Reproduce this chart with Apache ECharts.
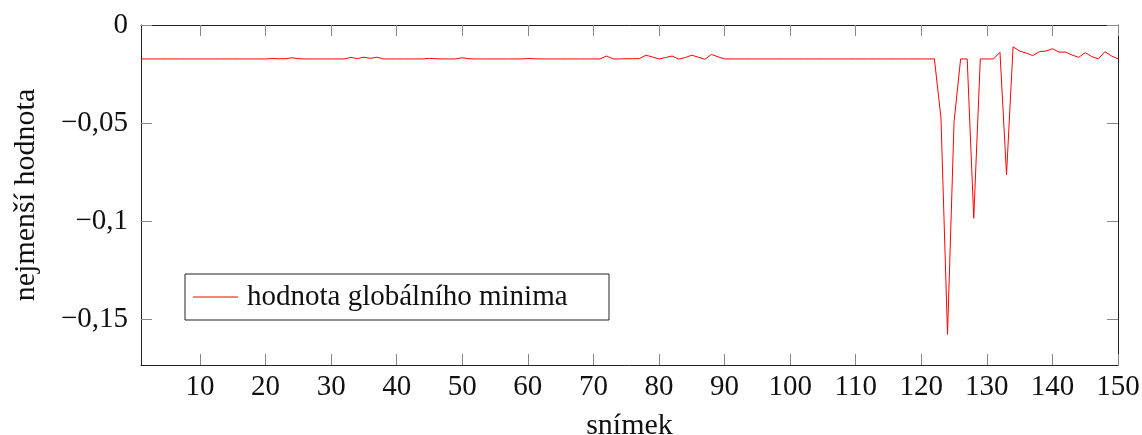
<!DOCTYPE html>
<html>
<head>
<meta charset="utf-8">
<script src="https://cdn.jsdelivr.net/npm/echarts@6/dist/echarts.min.js"></script>
<style>
  html, body { margin: 0; padding: 0; background: #fff; }
  #chart { width: 1142px; height: 435px; }
</style>
</head>
<body>
<div id="chart"></div>
<script>
// hodnota globalniho minima pro snimky 1..150
const minValues = [
  -0.0173, -0.0173, -0.0173, -0.0173, -0.0173, -0.0173, -0.0173, -0.0173, -0.0173, -0.0173,
  -0.0173, -0.0173, -0.0173, -0.0173, -0.0173, -0.0173, -0.0173, -0.0173, -0.0173, -0.0173,
  -0.0171, -0.0172, -0.0172, -0.0167, -0.0172, -0.0173, -0.0173, -0.0173, -0.0173, -0.0173,
  -0.0173, -0.0173, -0.0165, -0.0171, -0.0164, -0.0170, -0.0164, -0.0173, -0.0173, -0.0173,
  -0.0173, -0.0173, -0.0173, -0.0173, -0.0170, -0.0172, -0.0173, -0.0173, -0.0173, -0.0167,
  -0.0172, -0.0173, -0.0173, -0.0173, -0.0173, -0.0173, -0.0173, -0.0173, -0.0173, -0.0171,
  -0.0172, -0.0173, -0.0173, -0.0173, -0.0173, -0.0173, -0.0173, -0.0173, -0.0173, -0.0173,
  -0.0173, -0.0158, -0.0173, -0.0173, -0.0172, -0.0172, -0.0171, -0.0154, -0.0163, -0.0173,
  -0.0166, -0.0158, -0.0174, -0.0166, -0.0154, -0.0164, -0.0175, -0.0150, -0.0162, -0.0173,
  -0.0173, -0.0173, -0.0173, -0.0173, -0.0173, -0.0173, -0.0173, -0.0173, -0.0173, -0.0173,
  -0.0173, -0.0173, -0.0173, -0.0173, -0.0173, -0.0173, -0.0173, -0.0173, -0.0173, -0.0173,
  -0.0173, -0.0173, -0.0173, -0.0173, -0.0173, -0.0173, -0.0173, -0.0173, -0.0173, -0.0173,
  -0.0173, -0.0173, -0.0474, -0.1577, -0.0493, -0.0173, -0.0173, -0.0985, -0.0173, -0.0173,
  -0.0173, -0.0139, -0.0763, -0.0111, -0.0133, -0.0143, -0.0156, -0.0136, -0.0133, -0.0121,
  -0.0138, -0.0138, -0.0153, -0.0165, -0.0141, -0.0161, -0.0173, -0.0136, -0.0158, -0.0172
]
const xTicks = [10, 20, 30, 40, 50, 60, 70, 80, 90, 100, 110, 120, 130, 140, 150]
const yTicks = [0, -0.05, -0.1, -0.15]
const yTickLabels = ['0', '\u22120,05', '\u22120,1', '\u22120,15']
const seriesName = 'hodnota globálního minima'

const font = 'Liberation Serif'
const chart = echarts.init(document.getElementById('chart'))

// snimek = poradi + 1
const lineData = minValues.map((v, i) => [i + 1, v])

const axisLineStyle = { show: true, onZero: false, lineStyle: { color: '#222', width: 1 } }
const tickStyle = { show: true, inside: true, length: 11, lineStyle: { color: '#888', width: 1 } }

const option = {
  animation: false,
  grid: { left: 141, top: 25, right: 24, bottom: 70, outerBoundsMode: 'none' },
  legend: {
    left: 185,
    top: 274,
    orient: 'horizontal',
    data: [seriesName],
    icon: 'rect',
    itemWidth: 45,
    itemHeight: 1.2,
    itemGap: 0,
    padding: [8, 10, 8, 8],
    borderColor: '#222',
    borderWidth: 1,
    textStyle: { fontFamily: font, fontSize: 29, color: '#111', lineHeight: 30, width: 352, padding: [0, 0, 0, 4] }
  },
  xAxis: [
    {
      type: 'value',
      min: 1,
      max: 150,
      name: 'snímek',
      nameLocation: 'middle',
      nameGap: 46,
      nameTextStyle: { fontFamily: font, fontSize: 30, color: '#111' },
      axisLine: axisLineStyle,
      axisTick: Object.assign({ customValues: xTicks }, tickStyle),
      axisLabel: {
        customValues: xTicks,
        margin: 8,
        fontFamily: font,
        fontSize: 29,
        color: '#111'
      },
      splitLine: { show: false }
    },
    {
      type: 'value',
      position: 'top',
      min: 1,
      max: 150,
      axisLine: axisLineStyle,
      axisTick: Object.assign({ customValues: xTicks }, tickStyle),
      axisLabel: { show: false },
      splitLine: { show: false }
    }
  ],
  yAxis: [
    {
      type: 'value',
      min: -0.1733,
      max: 0,
      name: 'nejmenší hodnota',
      nameLocation: 'middle',
      nameGap: 100,
      nameTextStyle: { fontFamily: font, fontSize: 30, color: '#111' },
      axisLine: axisLineStyle,
      axisTick: Object.assign({ customValues: yTicks }, tickStyle),
      axisLabel: {
        customValues: yTicks,
        margin: 13,
        fontFamily: font,
        fontSize: 29,
        color: '#111',
        formatter: function (v) {
          const i = yTicks.findIndex(t => Math.abs(t - v) < 1e-9)
          return i >= 0 ? yTickLabels[i] : ''
        }
      },
      splitLine: { show: false }
    },
    {
      type: 'value',
      position: 'right',
      min: -0.1733,
      max: 0,
      axisLine: axisLineStyle,
      axisTick: Object.assign({ customValues: yTicks }, tickStyle),
      axisLabel: { show: false },
      splitLine: { show: false }
    }
  ],
  series: [
    {
      name: seriesName,
      type: 'line',
      data: lineData,
      symbol: 'none',
      lineStyle: { color: '#ff0000', width: 1 },
      itemStyle: { color: '#ff0000' }
    }
  ]
}

chart.setOption(option)
</script>
</body>
</html>
